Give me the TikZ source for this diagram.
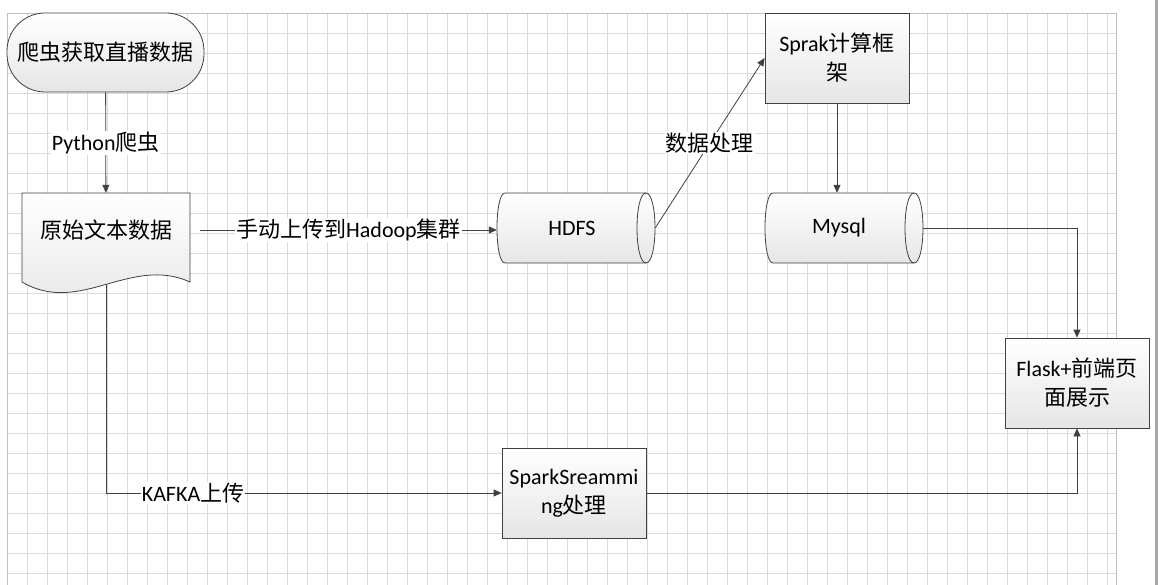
\documentclass[tikz,border=0pt]{standalone}
\usepackage{fontspec}
\setmainfont{Carlito}
\newfontfamily\cjk{Noto Sans CJK SC}
\usetikzlibrary{arrows.meta}
\definecolor{linec}{HTML}{404040}

% horizontal drum (database) outline round a centre coordinate
\newcommand{\drum}[1]{
	\path[shapeline] ([shift={(-71,-35)}]#1) -- ([shift={(70,-35)}]#1)
		.. controls ([shift={(82,-35)}]#1) and ([shift={(82,35)}]#1) .. ([shift={(70,35)}]#1)
		-- ([shift={(-71,35)}]#1)
		.. controls ([shift={(-81.7,35)}]#1) and ([shift={(-81.7,-35)}]#1) .. cycle;
	\draw[draw=linec, line width=0.8pt] ([shift={(70,-35)}]#1)
		.. controls ([shift={(58,-35)}]#1) and ([shift={(58,35)}]#1) .. ([shift={(70,35)}]#1);
}

\begin{document}
\begin{tikzpicture}[x=1pt, y=-1pt,
	every node/.style={font=\fontsize{22}{29}\selectfont, text=black},
	gridline/.style={draw=black!14, line width=0.8pt},
	pageline/.style={draw=black!25, line width=0.8pt},
	shapeline/.style={draw=linec, line width=0.8pt, top color=white, bottom color=black!10},
	box/.style={shapeline, minimum width=144pt, minimum height=90pt, align=center, inner sep=0pt},
	flow/.style={draw=linec, line width=0.8pt, -{Triangle[length=8pt,width=7pt]}},
	lbl/.style={fill=white, inner sep=1pt}]
	\fill[white] (0,0) rectangle (1158,585);
	\useasboundingbox (0,0) rectangle (1158,585);

	% page grid
	\foreach \x in {27,47,...,1107}
		\draw[gridline] (\x,13) -- (\x,585);
	\foreach \y in {33,53,...,573}
		\draw[gridline] (7,\y) -- (1116,\y);
	\draw[pageline] (7,585) -- (7,13) -- (1116,13) -- (1116,585);
	\fill[black!35] (1155,0) rectangle (1158,585);

	% shapes
	\node[box, rounded corners=38pt, minimum width=197pt, minimum height=79pt] (start) at (105.5,52.5) {\cjk 爬虫获取直播数据};

	\path[shapeline] (22,193) -- (190,193) -- (190,282)
		.. controls (130,255) and (80,316) .. (22,282) -- cycle;
	\node[minimum width=168pt, minimum height=74pt, inner sep=0pt] (doc) at (106,230) {\cjk 原始文本数据};
	\coordinate (docbot) at (106,285);

	\coordinate (hdfsc) at (576,228);
	\drum{hdfsc}
	\node[minimum width=158pt, minimum height=70pt, inner sep=0pt] (hdfs) at (hdfsc) {\hspace{-8pt}HDFS};

	\coordinate (mysqlc) at (844,228);
	\drum{mysqlc}
	\node[minimum width=158pt, minimum height=70pt, inner sep=0pt] (mysql) at (mysqlc) {\hspace{-10pt}Mysql};

	\node[box] (sprak) at (837,58) {Sprak{\cjk 计算框}\\{\cjk 架}};
	\node[box] (ss) at (574,493) {SparkSreammi\\ng{\cjk 处理}};
	\node[box] (flask) at (1077,383) {Flask+{\cjk 前端页}\\{\cjk 面展示}};

	% connectors
	\draw[flow] (start) -- node[lbl] {Python{\cjk 爬虫}} (doc);
	\draw[flow] ([xshift=10pt]doc.east) -- node[lbl] {{\cjk 手动上传到}Hadoop{\cjk 集群}} (doc.east -| hdfs.west);
	\draw[flow] (hdfs.east) -- node[lbl] {\cjk 数据处理} (sprak.west);
	\draw[flow] (sprak.south) -- (sprak.south |- mysql.north);
	\draw[flow] (mysql.east) -| (flask.north);
	\draw[flow] (docbot) |- node[lbl, pos=0.61] {KAFKA{\cjk 上传}} (ss.west);
	\draw[flow] (ss.east) -| (flask.south);
\end{tikzpicture}
\end{document}
